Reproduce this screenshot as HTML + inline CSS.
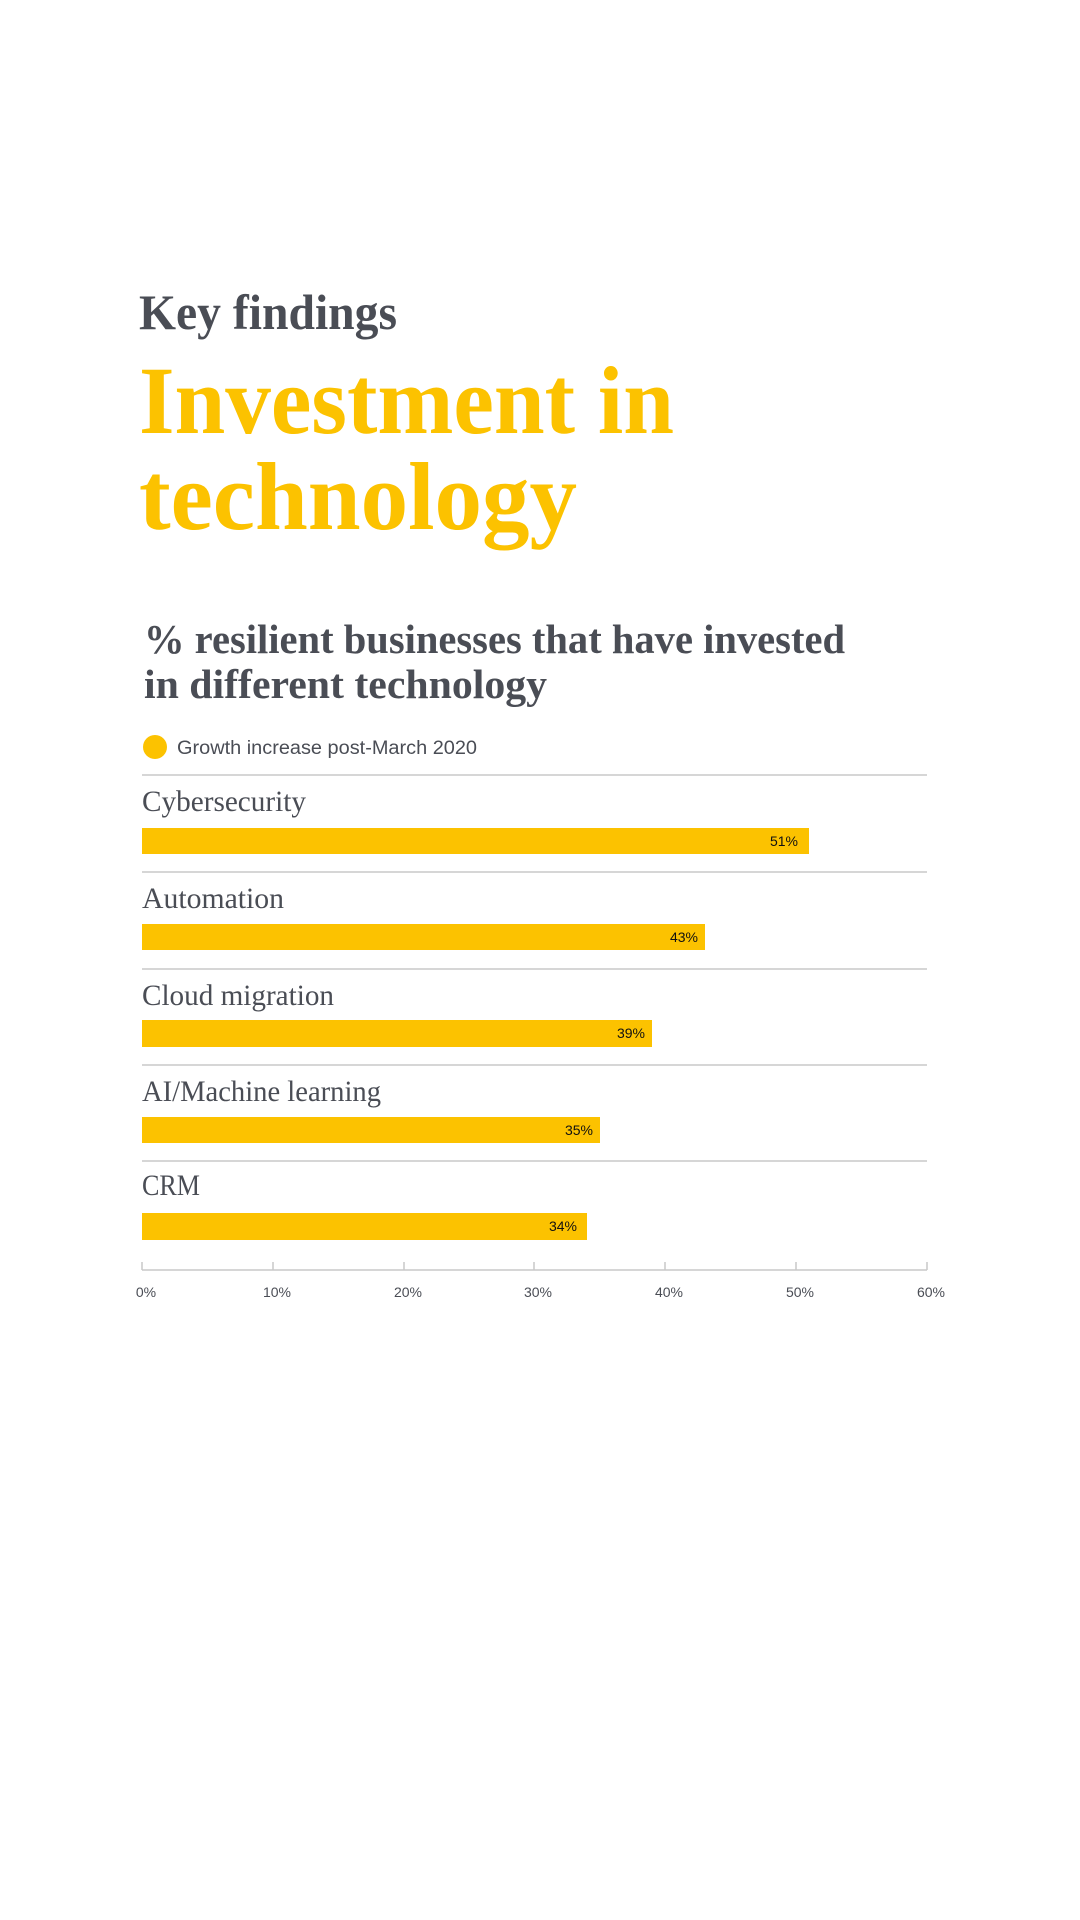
<!DOCTYPE html>
<html><head><meta charset="utf-8"><style>
html,body{margin:0;padding:0;background:#fff;}
svg{display:block;}
</style></head><body>
<svg width="1080" height="1920" viewBox="0 0 1080 1920" xmlns="http://www.w3.org/2000/svg">
<rect width="1080" height="1920" fill="#fff"/>
<g font-family="Liberation Serif, serif">
<text x="139" y="329" font-size="50" font-weight="bold" fill="#4a4d55" textLength="258" lengthAdjust="spacingAndGlyphs">Key findings</text>
<text x="139" y="433" font-size="96" font-weight="bold" fill="#fcc200" textLength="535" lengthAdjust="spacingAndGlyphs">Investment in</text>
<text x="139" y="529" font-size="96" font-weight="bold" fill="#fcc200" textLength="438" lengthAdjust="spacingAndGlyphs">technology</text>
<text x="144" y="653" font-size="41" font-weight="bold" fill="#4a4d55" textLength="701" lengthAdjust="spacingAndGlyphs">% resilient businesses that have invested</text>
<text x="144" y="698" font-size="41" font-weight="bold" fill="#4a4d55" textLength="403" lengthAdjust="spacingAndGlyphs">in different technology</text>
</g>
<circle cx="155" cy="747" r="12" fill="#fcc200"/>
<text x="177" y="754" font-family="Liberation Sans, sans-serif" font-size="19" fill="#4a4d55" textLength="300" lengthAdjust="spacingAndGlyphs">Growth increase post-March 2020</text>
<g stroke="#c8c8c8" stroke-width="1.5">
<line x1="142" y1="775" x2="927" y2="775"/>
<line x1="142" y1="872" x2="927" y2="872"/>
<line x1="142" y1="969" x2="927" y2="969"/>
<line x1="142" y1="1065" x2="927" y2="1065"/>
<line x1="142" y1="1161" x2="927" y2="1161"/>
<line x1="142" y1="1270" x2="927" y2="1270"/>
<line x1="142" y1="1262" x2="142" y2="1270"/>
<line x1="273" y1="1262" x2="273" y2="1270"/>
<line x1="404" y1="1262" x2="404" y2="1270"/>
<line x1="534" y1="1262" x2="534" y2="1270"/>
<line x1="665" y1="1262" x2="665" y2="1270"/>
<line x1="796" y1="1262" x2="796" y2="1270"/>
<line x1="927" y1="1262" x2="927" y2="1270"/>
</g>
<g font-family="Liberation Serif, serif" font-size="30" fill="#4a4d55">
<text x="142" y="811" textLength="164" lengthAdjust="spacingAndGlyphs">Cybersecurity</text>
<text x="142" y="908" textLength="142" lengthAdjust="spacingAndGlyphs">Automation</text>
<text x="142" y="1005" textLength="192" lengthAdjust="spacingAndGlyphs">Cloud migration</text>
<text x="142" y="1101" textLength="239" lengthAdjust="spacingAndGlyphs">AI/Machine learning</text>
<text x="142" y="1195" textLength="58" lengthAdjust="spacingAndGlyphs">CRM</text>
</g>
<g fill="#fcc200">
<rect x="142" y="828" width="667" height="26"/>
<rect x="142" y="924" width="563" height="26"/>
<rect x="142" y="1020" width="510" height="27"/>
<rect x="142" y="1117" width="458" height="26"/>
<rect x="142" y="1213" width="445" height="27"/>
</g>
<g font-family="Liberation Sans, sans-serif" font-size="14" fill="#111" text-anchor="end">
<text x="798" y="846">51%</text>
<text x="698" y="942">43%</text>
<text x="645" y="1038">39%</text>
<text x="593" y="1135">35%</text>
<text x="577" y="1231">34%</text>
</g>
<g font-family="Liberation Sans, sans-serif" font-size="14" fill="#4a4d55" text-anchor="middle">
<text x="146" y="1297">0%</text>
<text x="277" y="1297">10%</text>
<text x="408" y="1297">20%</text>
<text x="538" y="1297">30%</text>
<text x="669" y="1297">40%</text>
<text x="800" y="1297">50%</text>
<text x="931" y="1297">60%</text>
</g>
</svg>
</body></html>
